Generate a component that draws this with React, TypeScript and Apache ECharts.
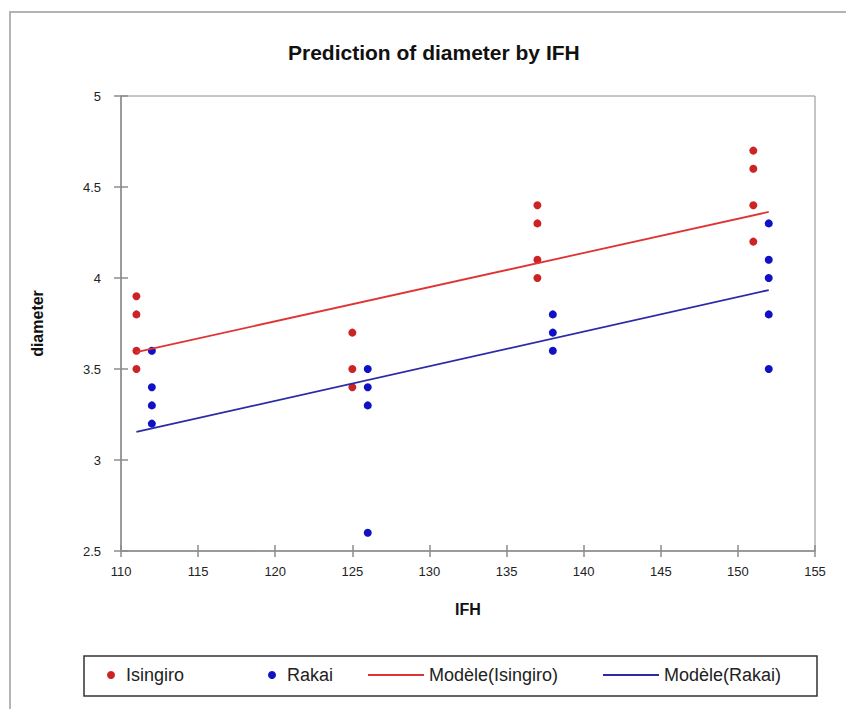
import React, { useEffect, useRef } from "react";
import * as echarts from "echarts";

const isingiroPoints: [number, number][] = [
  [111, 3.9], [111, 3.8], [111, 3.6], [111, 3.5],
  [125, 3.7], [125, 3.5], [125, 3.4],
  [137, 4.4], [137, 4.3], [137, 4.1], [137, 4.0],
  [151, 4.7], [151, 4.6], [151, 4.4], [151, 4.2],
];
const rakaiPoints: [number, number][] = [
  [112, 3.6], [112, 3.4], [112, 3.3], [112, 3.2],
  [126, 3.5], [126, 3.4], [126, 3.3], [126, 2.6],
  [138, 3.8], [138, 3.7], [138, 3.6],
  [152, 4.3], [152, 4.1], [152, 4.0], [152, 3.8], [152, 3.5],
];
const isingiroModel: [number, number][] = [[111, 3.593], [152, 4.363]];
const rakaiModel: [number, number][] = [[111, 3.154], [152, 3.934]];

const seriesNames = ["Isingiro", "Rakai", "Modèle(Isingiro)", "Modèle(Rakai)"];
const xMin = 110, xMax = 155, xStep = 5;
const yMin = 2.5, yMax = 5, yStep = 0.5;

const FONT = "'Liberation Sans', Arial, sans-serif";
const AXIS = "#8c8c8c";
const RED_DOT = "#cc2424";
const BLUE_DOT = "#1010c4";
const RED_LINE = "#e03434";
const BLUE_LINE = "#2a2aa6";

export default function App() {
  const ref = useRef<HTMLDivElement>(null);
  useEffect(() => {
    if (!ref.current) return;
    const chart = echarts.init(ref.current, undefined, { renderer: "svg" });
    const W = 846, H = 709;
    const grid = { left: 121, right: 31, top: 96, bottom: 158 };
    const plotW = W - grid.left - grid.right;
    const plotH = H - grid.top - grid.bottom;
    const legendText = { fontFamily: FONT, fontSize: 18, color: "#222" };
    const legendTop = 666;
    chart.setOption({
      animation: false,
      backgroundColor: "#fff",
      textStyle: { fontFamily: FONT },
      title: {
        text: "Prediction of diameter by IFH",
        left: 283,
        top: 37,
        textStyle: { fontFamily: FONT, fontSize: 21, fontWeight: "bold", color: "#111" },
      },
      graphic: [
        { type: "rect", shape: { x: 10, y: 12, width: 900, height: 800 }, style: { fill: "none", stroke: "#b4b4b4", lineWidth: 2 }, silent: true },
        { type: "rect", shape: { x: 84, y: 656, width: 733, height: 40 }, style: { fill: "none", stroke: "#333", lineWidth: 1.5 }, silent: true },
      ],
      legend: [
        { data: [seriesNames[0]], left: 107, itemWidth: 20, itemHeight: 8, icon: "circle" },
        { data: [seriesNames[1]], left: 268, itemWidth: 20, itemHeight: 8, icon: "circle" },
        { data: [seriesNames[2]], left: 368, itemWidth: 56, itemHeight: 2, icon: "rect" },
        { data: [seriesNames[3]], left: 603, itemWidth: 56, itemHeight: 2, icon: "rect" },
      ].map((l: any) => ({ ...l, top: legendTop, padding: 0, selectedMode: false, textStyle: legendText })),
      grid: {
        ...grid,
        show: true, borderColor: AXIS, borderWidth: 1, backgroundColor: "transparent",
      },
      xAxis: [
        {
          type: "value", min: xMin, max: xMax, interval: xStep, position: "bottom",
          name: "IFH", nameLocation: "middle", nameGap: 50,
          nameTextStyle: { fontFamily: FONT, fontSize: 16, fontWeight: "bold", color: "#111" },
          axisLine: { show: true, lineStyle: { color: AXIS, width: 1.5 } },
          axisTick: { show: true, length: 6, lineStyle: { color: AXIS, width: 1.5 } },
          axisLabel: { fontFamily: FONT, fontSize: 13, color: "#222", margin: 14 },
          splitLine: { show: false },
        },
        {
          type: "value", min: xMin, max: xMax, interval: xStep, position: "top", offset: -plotH,
          axisLine: { show: false },
          axisTick: { show: true, length: 6, lineStyle: { color: AXIS, width: 1.5 } },
          axisLabel: { show: false },
          splitLine: { show: false },
        },
      ],
      yAxis: [
        {
          type: "value", min: yMin, max: yMax, interval: yStep, position: "left",
          name: "diameter", nameLocation: "middle", nameGap: 76,
          nameTextStyle: { fontFamily: FONT, fontSize: 16, fontWeight: "bold", color: "#111" },
          axisLine: { show: true, lineStyle: { color: AXIS, width: 1.5 } },
          axisTick: { show: true, length: 7, lineStyle: { color: AXIS, width: 1.5 } },
          axisLabel: { fontFamily: FONT, fontSize: 13, color: "#222", margin: 20 },
          splitLine: { show: false },
        },
        {
          type: "value", min: yMin, max: yMax, interval: yStep, position: "right", offset: -plotW,
          axisLine: { show: false },
          axisTick: { show: true, length: 7, lineStyle: { color: AXIS, width: 1.5 } },
          axisLabel: { show: false },
          splitLine: { show: false },
        },
      ],
      series: [
        { name: seriesNames[0], type: "scatter", data: isingiroPoints, symbolSize: 8, itemStyle: { color: RED_DOT, opacity: 1 } },
        { name: seriesNames[1], type: "scatter", data: rakaiPoints, symbolSize: 8, itemStyle: { color: BLUE_DOT, opacity: 1 } },
        { name: seriesNames[2], type: "line", data: isingiroModel, symbol: "none", lineStyle: { color: RED_LINE, width: 1.8 }, itemStyle: { color: RED_LINE } },
        { name: seriesNames[3], type: "line", data: rakaiModel, symbol: "none", lineStyle: { color: BLUE_LINE, width: 1.8 }, itemStyle: { color: BLUE_LINE } },
      ],
    });
    return () => chart.dispose();
  }, []);
  return <div ref={ref} style={{ position: "absolute", left: 0, top: 0, width: 846, height: 709 }} />;
}
